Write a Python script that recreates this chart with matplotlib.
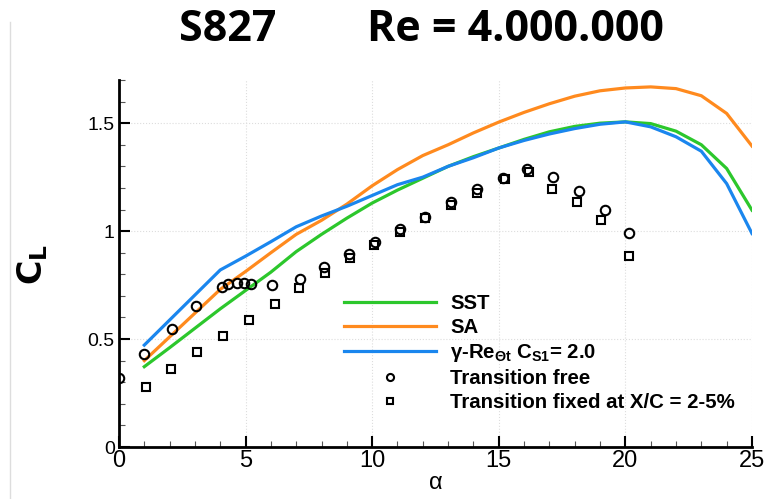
import matplotlib
matplotlib.use("Agg")
import matplotlib.pyplot as plt
from matplotlib.lines import Line2D

# --- DATA ---
alpha_cfd = [1, 2, 3, 4, 5, 6, 7, 8, 9, 10, 11, 12, 13, 14, 15, 16, 17, 18, 19, 20, 21, 22, 23, 24, 25]

cl_sst = [0.372, 0.46, 0.55, 0.64, 0.725, 0.81, 0.905, 0.985, 1.06, 1.13, 1.19, 1.245, 1.30, 1.345,
          1.385, 1.425, 1.46, 1.485, 1.50, 1.506, 1.498, 1.463, 1.40, 1.29, 1.097]
cl_sa = [0.40, 0.51, 0.62, 0.73, 0.813, 0.90, 0.985, 1.05, 1.125, 1.21, 1.285, 1.35, 1.40, 1.455,
         1.505, 1.55, 1.59, 1.625, 1.65, 1.663, 1.668, 1.66, 1.627, 1.545, 1.394]
cl_gamma = [0.472, 0.588, 0.704, 0.82, 0.884, 0.951, 1.02, 1.07, 1.115, 1.165, 1.215, 1.25, 1.30,
            1.34, 1.385, 1.42, 1.45, 1.475, 1.495, 1.506, 1.483, 1.437, 1.37, 1.22, 0.989]

alpha_free = [0.0, 1.0, 2.1, 3.05, 4.05, 4.3, 4.65, 4.95, 5.2, 6.05, 7.15, 8.1, 9.1, 10.1, 11.1,
              12.1, 13.1, 14.15, 15.15, 16.1, 17.15, 18.15, 19.2, 20.15]
cl_free = [0.32, 0.43, 0.545, 0.655, 0.74, 0.755, 0.76, 0.76, 0.753, 0.75, 0.777, 0.833, 0.892,
           0.948, 1.01, 1.066, 1.135, 1.193, 1.247, 1.29, 1.251, 1.185, 1.10, 0.99]

alpha_fixed = [1.05, 2.05, 3.07, 4.1, 5.13, 6.15, 7.1, 8.12, 9.12, 10.08, 11.1, 12.1, 13.12, 14.13,
               15.25, 16.2, 17.1, 18.1, 19.05, 20.15]
cl_fixed = [0.276, 0.36, 0.441, 0.515, 0.589, 0.663, 0.737, 0.808, 0.874, 0.935, 0.998, 1.059,
            1.121, 1.177, 1.241, 1.272, 1.194, 1.137, 1.051, 0.884]

GREEN = "#2cc72c"
ORANGE = "#ff8a1e"
BLUE = "#1a86ee"

plt.rcParams["font.family"] = ["Liberation Sans", "DejaVu Sans"]
plt.rcParams["mathtext.default"] = "regular"

fig = plt.figure(figsize=(7.7, 4.99), dpi=100)
ax = fig.add_axes([0.1545, 0.1042, 0.8221, 0.7355])

ax.plot(alpha_cfd, cl_sst, color=GREEN, lw=2.3, label="SST")
ax.plot(alpha_cfd, cl_sa, color=ORANGE, lw=2.3, label="SA")
ax.plot(alpha_cfd, cl_gamma, color=BLUE, lw=2.3,
        label=r"$\gamma$-Re$_{\Theta t}$ C$_{S1}$= 2.0")
ax.plot(alpha_free, cl_free, ls="none", marker="o", ms=6.8, mfc="none", mec="black", mew=1.5,
        label="Transition free")
ax.plot(alpha_fixed, cl_fixed, ls="none", marker="s", ms=6.2, mfc="none", mec="black", mew=1.5,
        label="Transition fixed at X/C = 2-5%")

ax.set_xlim(0, 25)
ax.set_ylim(0, 1.7)
ax.set_xticks([0, 5, 10, 15, 20, 25])
ax.set_xticklabels(["0", "5", "10", "15", "20", "25"])
ax.set_yticks([0, 0.5, 1, 1.5])
ax.set_yticklabels(["0", "0.5", "1", "1.5"])
ax.set_xticks(range(0, 26), minor=True)
ax.set_yticks([i / 10 for i in range(0, 18)], minor=True)
ax.tick_params(axis="x", which="major", direction="in", length=8, width=1.5, labelsize=17, pad=2)
ax.tick_params(axis="y", which="major", direction="in", length=8, width=1.5, labelsize=14, pad=3)
ax.tick_params(which="minor", direction="in", length=4, width=0.8, color="#555555")
ax.grid(True, which="major", ls=":", color="#dddddd", lw=0.8)

for side in ["top", "right"]:
    ax.spines[side].set_visible(False)
for side in ["left", "bottom"]:
    ax.spines[side].set_linewidth(2)

ax.set_xlabel(r"$\alpha$", fontsize=17, labelpad=0)
fig.text(0.042, 0.47, r"$\mathbf{C}_{\mathbf{L}}$", fontsize=24, rotation=90,
         ha="center", va="center")

leg = ax.legend(loc="upper left", bbox_to_anchor=(0.343, 0.44), frameon=False,
                prop={"weight": "bold", "size": 14.7}, handlelength=4.5, handletextpad=0.7,
                labelspacing=0.25, markerscale=0.75, borderaxespad=0)

fig.text(0.296, 0.94, "S827", fontsize=31, fontweight="bold", family="Open Sans",
         ha="center", va="center")
fig.text(0.6695, 0.94, "Re = 4.000.000", fontsize=31, fontweight="bold", family="Open Sans",
         ha="center", va="center")

fig.add_artist(Line2D([0.013, 0.013], [0, 0.955], transform=fig.transFigure,
                      color="#dddddd", lw=1))

fig.savefig("out.png", dpi=100)
